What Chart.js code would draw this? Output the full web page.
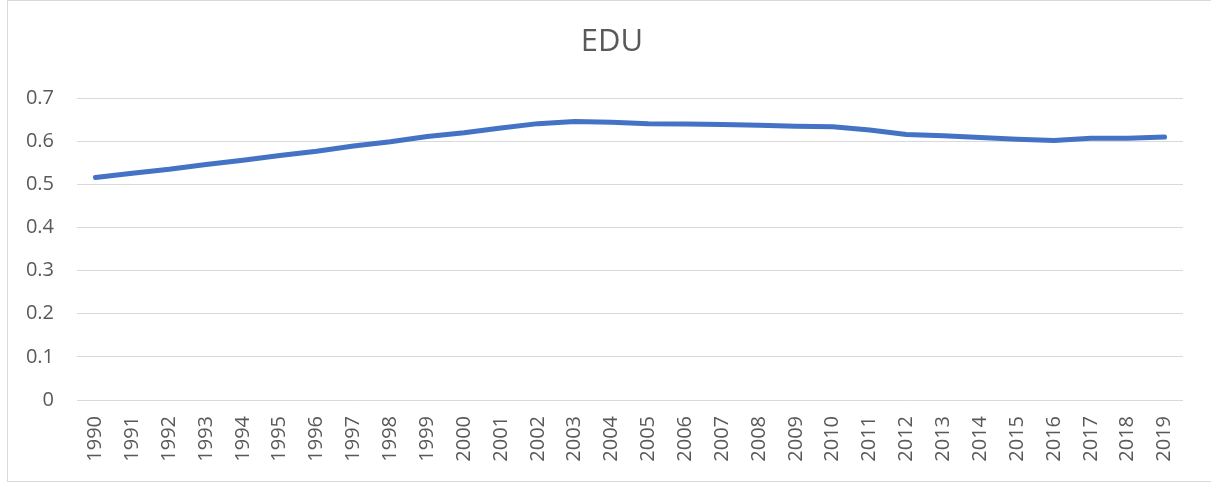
<!DOCTYPE html>
<html>
<head>
<meta charset="utf-8">
<script src="https://cdn.jsdelivr.net/npm/chart.js@4"></script>
<style>
  body { margin: 0; background: #fff; }
  #frame { position: absolute; left: 7px; top: 0; width: 1210px; height: 480px; border: 1px solid #d9d9d9; }
  #wrap { position: absolute; left: 0; top: 0; width: 1211px; height: 483px; }
</style>
</head>
<body>
<div id="frame"></div>
<div id="wrap"><canvas id="c"></canvas></div>
<script>
// years on the x axis
const years = ['1990','1991','1992','1993','1994','1995','1996','1997','1998','1999',
  '2000','2001','2002','2003','2004','2005','2006','2007','2008','2009',
  '2010','2011','2012','2013','2014','2015','2016','2017','2018','2019'];

// EDU series
const eduValues = [0.516, 0.526, 0.535, 0.546, 0.556, 0.567, 0.577, 0.589, 0.599, 0.611,
  0.620, 0.631, 0.641, 0.646, 0.644, 0.641, 0.640, 0.639, 0.637, 0.635,
  0.634, 0.626, 0.616, 0.613, 0.609, 0.605, 0.602, 0.607, 0.607, 0.610];

const yTicks = [0, 0.1, 0.2, 0.3, 0.4, 0.5, 0.6, 0.7];

const textColor = '#595959';
const fontFamily = '"Open Sans", "Noto Sans", sans-serif';

// title in the original is centred on the frame, not on the chart box
const shiftTitle = {
  id: 'shiftTitle',
  afterLayout(chart) {
    if (chart.titleBlock) chart.titleBlock.left = 41;
  }
};

new Chart(document.getElementById('c'), {
  type: 'line',
  data: {
    labels: years,
    datasets: [{
      label: 'EDU',
      data: eduValues,
      borderColor: '#4472C4',
      borderWidth: 5,
      pointRadius: 0,
      tension: 0,
      borderCapStyle: 'round',
      borderJoinStyle: 'round'
    }]
  },
  options: {
    responsive: true,
    maintainAspectRatio: false,
    animation: false,
    layout: { padding: { left: 0, right: 28, top: 0, bottom: 0 } },
    plugins: {
      legend: { display: false },
      tooltip: { enabled: false },
      title: {
        display: true,
        text: 'EDU',
        color: textColor,
        font: { family: fontFamily, size: 31, weight: 'normal' },
        padding: { top: 24, bottom: 37 }
      }
    },
    scales: {
      x: {
        offset: true,
        grid: { display: false, drawTicks: false },
        border: { display: false },
        ticks: {
          color: textColor,
          font: { family: fontFamily, size: 20 },
          minRotation: 90,
          maxRotation: 90,
          autoSkip: false,
          padding: 16
        },
        afterFit: s => { s.height = 83; }
      },
      y: {
        min: 0,
        max: 0.7,
        afterBuildTicks: s => { s.ticks = yTicks.map(v => ({ value: v })); },
        grid: { color: '#d9d9d9', lineWidth: 1, drawTicks: false },
        border: { display: false },
        ticks: {
          color: textColor,
          font: { family: fontFamily, size: 20 },
          padding: 23,
          callback: v => String(Math.round(v * 10) / 10)
        },
        afterFit: s => { s.width = 77; }
      }
    }
  },
  plugins: [shiftTitle]
});
</script>
</body>
</html>
